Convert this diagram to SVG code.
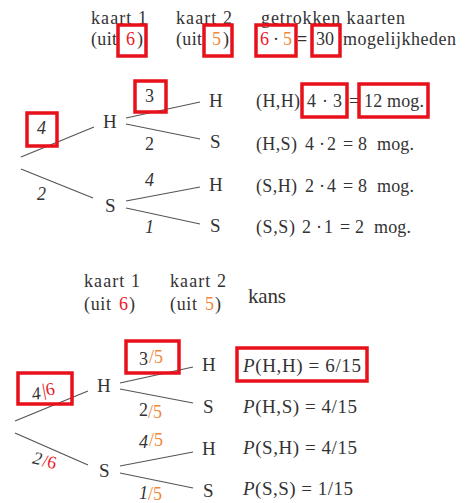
<svg xmlns="http://www.w3.org/2000/svg" width="471" height="503" viewBox="0 0 471 503">
<style>
text{font-family:"Liberation Serif","DejaVu Serif",serif;fill:#333;font-size:18px}
.it{font-style:italic}
.r{fill:#e8202a}
.o{fill:#f0883a}
.box{fill:none;stroke:#e8101a;stroke-width:3.5}
.ln{stroke:#555;stroke-width:1.2;fill:none}
.p{font-size:19px}
.k{font-size:21px}
.n{font-size:19px}
</style>
<rect width="471" height="503" fill="#fff"/>

<!-- Header 1 -->
<g id="header1">
<text x="91" y="24" textLength="56" lengthAdjust="spacing">kaart 1</text>
<text x="176" y="24" textLength="56" lengthAdjust="spacing">kaart 2</text>
<text x="261" y="24" textLength="144" lengthAdjust="spacing">getrokken kaarten</text>
<text x="91" y="45" textLength="26" lengthAdjust="spacing">(uit</text>
<text x="126" y="45" class="r">6</text>
<text x="137" y="45">)</text>
<text x="176" y="45" textLength="26" lengthAdjust="spacing">(uit</text>
<text x="212" y="45" class="o">5</text>
<text x="223" y="45">)</text>
<text x="260" y="45" class="r">6</text>
<text x="273" y="45">·</text>
<text x="283" y="45" class="o">5</text>
<text x="297" y="45" font-weight="bold" fill="#777">=</text>
<text x="316" y="45">30</text>
<text x="343" y="45" textLength="113" lengthAdjust="spacing">mogelijkheden</text>
<rect class="box" x="118" y="25" width="28" height="31"/>
<rect class="box" x="204" y="25" width="28" height="31"/>
<rect class="box" x="256" y="25" width="40" height="31"/>
<rect class="box" x="312" y="25" width="28" height="31"/>
</g>

<!-- Connectors tree 1 -->
<g id="connectors1">
<line class="ln" x1="21" y1="157" x2="94" y2="127"/>
<line class="ln" x1="21" y1="169" x2="93" y2="198"/>
<line class="ln" x1="126" y1="118" x2="200" y2="102"/>
<line class="ln" x1="126" y1="124" x2="200" y2="139"/>
<line class="ln" x1="126" y1="201" x2="200" y2="187"/>
<line class="ln" x1="126" y1="208" x2="200" y2="224"/>
</g>

<!-- Tree 1 nodes -->
<g id="t1-H"><text x="103" y="128" class="n">H</text></g>
<g id="t1-S"><text x="105" y="212" class="n">S</text></g>
<g id="t1-HH"><text x="209" y="107" class="n">H</text></g>
<g id="t1-HS"><text x="210" y="148" class="n">S</text></g>
<g id="t1-SH"><text x="209" y="191" class="n">H</text></g>
<g id="t1-SS"><text x="210" y="232" class="n">S</text></g>

<!-- Tree 1 edge labels -->
<g id="t1-labels">
<text x="145" y="102">3</text>
<rect class="box" x="135" y="81" width="31" height="31"/>
<text x="37" y="134" class="it">4</text>
<rect class="box" x="27" y="113" width="30" height="33"/>
<text x="145" y="150">2</text>
<text x="37" y="200" class="it">2</text>
<text x="145" y="186" class="it">4</text>
<text x="145" y="233" class="it">1</text>
</g>

<!-- Tree 1 outcomes -->
<g id="t1-out1">
<text x="256" y="107" textLength="44" lengthAdjust="spacing">(H,H)</text>
<text x="307" y="107">4</text><text x="322" y="107">·</text><text x="333" y="107">3</text>
<text x="349" y="107">=</text>
<text x="364" y="107" textLength="60" lengthAdjust="spacing">12 mog.</text>
<rect class="box" x="302" y="84" width="45" height="33"/>
<rect class="box" x="359" y="84" width="69" height="33"/>
</g>
<g id="t1-out2">
<text x="256" y="150" textLength="41" lengthAdjust="spacing">(H,S)</text>
<text x="305" y="150">4</text><text x="319" y="150">·</text><text x="327" y="150">2</text>
<text x="343" y="150">=</text><text x="358" y="150">8</text>
<text x="377" y="150" textLength="37" lengthAdjust="spacing">mog.</text>
</g>
<g id="t1-out3">
<text x="256" y="192" textLength="41" lengthAdjust="spacing">(S,H)</text>
<text x="305" y="192">2</text><text x="319" y="192">·</text><text x="327" y="192">4</text>
<text x="343" y="192">=</text><text x="358" y="192">8</text>
<text x="377" y="192" textLength="37" lengthAdjust="spacing">mog.</text>
</g>
<g id="t1-out4">
<text x="256" y="233" textLength="39" lengthAdjust="spacing">(S,S)</text>
<text x="302" y="233">2</text><text x="316" y="233">·</text><text x="324" y="233">1</text>
<text x="340" y="233">=</text><text x="355" y="233">2</text>
<text x="374" y="233" textLength="37" lengthAdjust="spacing">mog.</text>
</g>

<!-- Header 2 -->
<g id="header2">
<text x="84" y="287" textLength="56" lengthAdjust="spacing">kaart 1</text>
<text x="170" y="287" textLength="56" lengthAdjust="spacing">kaart 2</text>
<text x="84" y="310" textLength="27" lengthAdjust="spacing">(uit</text>
<text x="119" y="310" class="r">6</text>
<text x="129" y="310">)</text>
<text x="170" y="310" textLength="27" lengthAdjust="spacing">(uit</text>
<text x="205" y="310" class="o">5</text>
<text x="215" y="310">)</text>
<text x="248" y="303" class="k" textLength="38" lengthAdjust="spacing">kans</text>
</g>

<!-- Connectors tree 2 -->
<g id="connectors2">
<line class="ln" x1="15" y1="421" x2="88" y2="391"/>
<line class="ln" x1="15" y1="433" x2="88" y2="465"/>
<line class="ln" x1="120" y1="383" x2="193" y2="367"/>
<line class="ln" x1="120" y1="389" x2="193" y2="403"/>
<line class="ln" x1="120" y1="466" x2="193" y2="452"/>
<line class="ln" x1="120" y1="473" x2="193" y2="488"/>
</g>

<!-- Tree 2 nodes -->
<g id="t2-H"><text x="97" y="392" class="n">H</text></g>
<g id="t2-S"><text x="99" y="477" class="n">S</text></g>
<g id="t2-HH"><text x="202" y="371" class="n">H</text></g>
<g id="t2-HS"><text x="203" y="413" class="n">S</text></g>
<g id="t2-SH"><text x="202" y="455" class="n">H</text></g>
<g id="t2-SS"><text x="203" y="497" class="n">S</text></g>

<!-- Tree 2 edge labels -->
<g id="t2-labels">
<text x="139" y="365">3</text><text x="149" y="363" class="o">/5</text>
<rect class="box" x="126" y="341" width="53" height="32"/>
<g transform="rotate(-10 45 395)"><text x="32" y="398" class="it">4</text><text x="43" y="396" class="r">|6</text></g>
<rect class="box" x="18" y="373" width="54" height="31"/>
<text x="139" y="416">2</text><text x="148" y="418" class="o">/5</text>
<text x="139" y="448" class="it">4</text><text x="149" y="446" class="o">/5</text>
<text x="139" y="499" class="it">1</text><text x="148" y="500" class="o">/5</text>
<g transform="rotate(12 45 464)"><text x="32" y="466" class="it">2</text><text x="42" y="467" class="r">/6</text></g>
</g>

<!-- Tree 2 outcomes -->
<g id="t2-out1">
<text x="243" y="372" class="p" textLength="118" lengthAdjust="spacing"><tspan class="it">P</tspan>(H,H) = 6/15</text>
<rect class="box" x="237" y="348" width="130" height="33"/>
</g>
<g id="t2-out2"><text x="243" y="413" class="p" textLength="114" lengthAdjust="spacing"><tspan class="it">P</tspan>(H,S) = 4/15</text></g>
<g id="t2-out3"><text x="243" y="454" class="p" textLength="114" lengthAdjust="spacing"><tspan class="it">P</tspan>(S,H) = 4/15</text></g>
<g id="t2-out4"><text x="243" y="495" class="p" textLength="110" lengthAdjust="spacing"><tspan class="it">P</tspan>(S,S) = 1/15</text></g>
</svg>
